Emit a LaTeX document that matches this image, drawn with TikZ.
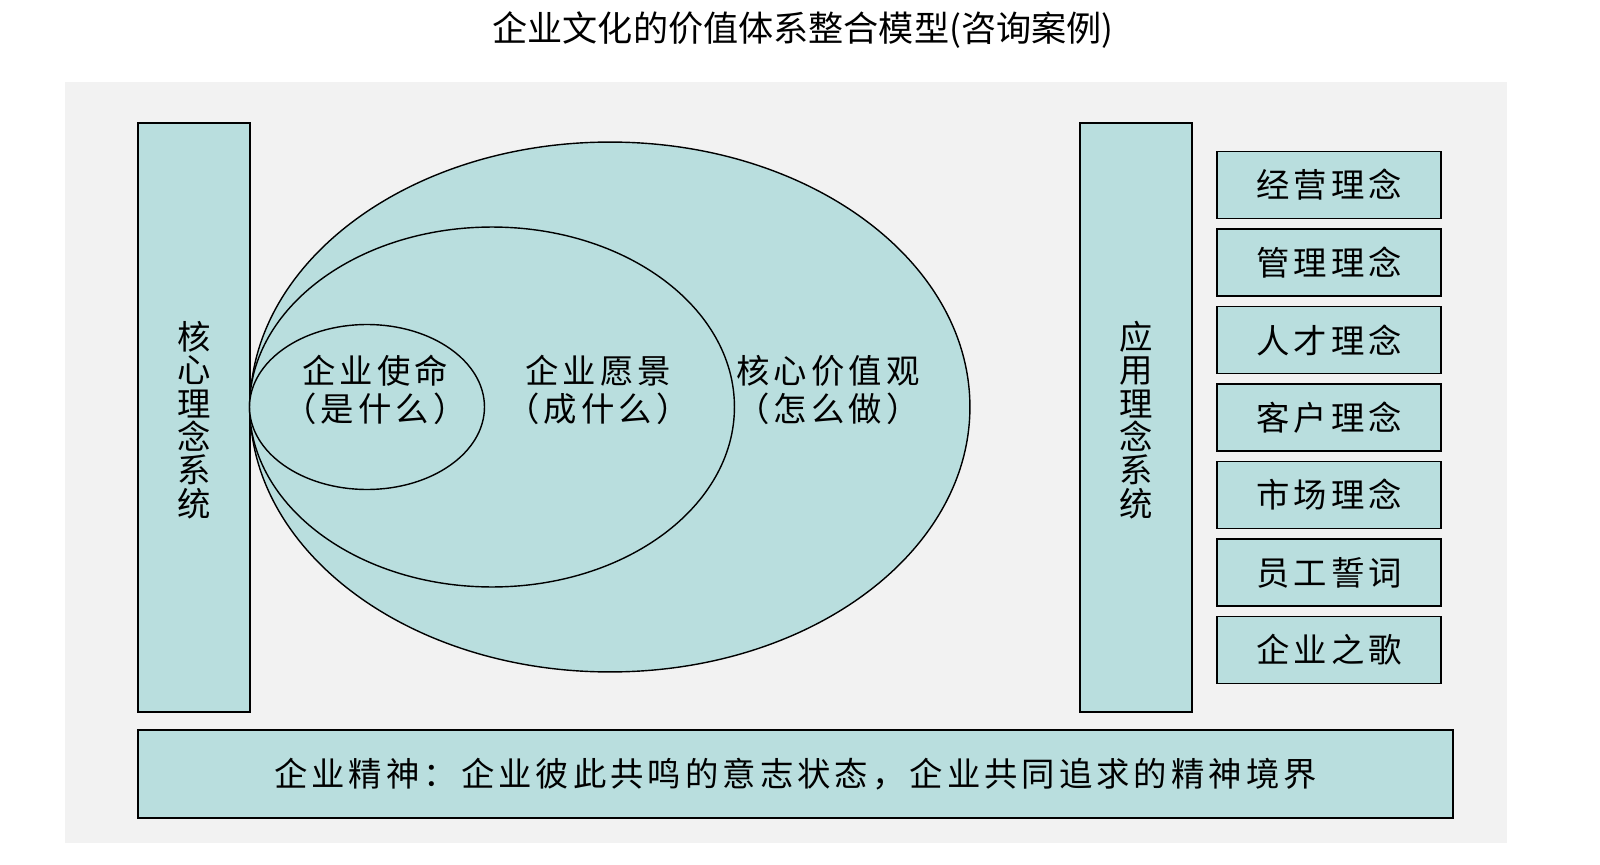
\documentclass[tikz,border=0pt]{standalone}
\usepackage{fontspec}
\setmainfont{Noto Sans CJK SC}
\usetikzlibrary{shapes.geometric}
\definecolor{teal1}{HTML}{B9DEDE}
\definecolor{panel}{HTML}{F2F2F2}
\newcommand{\lblfont}{\fontsize{19}{22}\selectfont\addfontfeature{LetterSpace=12}}
\tikzset{
    bar/.style = {draw, thick, fill = teal1, minimum width = 2.24cm, minimum height = 11.78cm},
    item/.style = {draw, thick, fill = teal1, minimum width = 4.48cm, minimum height = 1.34cm, font = \lblfont},
    oval/.style = {ellipse, draw, thick, fill = teal1}
}
\begin{document}
\begin{tikzpicture}[x = 0.02cm, y = -0.02cm]
        \useasboundingbox (0,0) rectangle (1600,865);
        \fill [panel] (65,82) rectangle (1507,843);
        \node [font = \fontsize{20}{24}\selectfont] (title) at (803,30) {企业文化的价值体系整合模型(咨询案例)};
        \begin{scope}
            \node [bar] (core) at (194,417.5) {};
            \node [align = center, font = \fontsize{19}{19}\selectfont] (coret) at (194,420) {核\\心\\理\\念\\系\\统};
            \node [oval, minimum width = 14.4cm, minimum height = 10.6cm] (values) at (610,407) {};
            \node [oval, minimum width = 9.7cm, minimum height = 7.2cm] (vision) at (492,407) {};
            \node [oval, minimum width = 4.7cm, minimum height = 3.3cm] (mission) at (367,407) {};
            \node [align = center, font = \lblfont] (missiont) at (375,390) {企业使命\\（是什么）};
            \node [align = center, font = \lblfont] (visiont) at (598,390) {企业愿景\\（成什么）};
            \node [align = center, font = \lblfont] (valuest) at (828,390) {核心价值观\\（怎么做）};
        \end{scope}
        \begin{scope}
            \node [bar] (apply) at (1136,417.5) {};
            \node [align = center, font = \fontsize{19}{19}\selectfont] (applyt) at (1136,420) {应\\用\\理\\念\\系\\统};
            \foreach \t [count = \i] in {经营理念, 管理理念, 人才理念, 客户理念, 市场理念, 员工誓词, 企业之歌}
                \node [item] (box\i) at (1329, 185 + 77.5*\i - 77.5) {\t};
        \end{scope}
        \node [draw, thick, fill = teal1, minimum width = 26.3cm, minimum height = 1.76cm, font = \lblfont] (spirit) at (795.5,774) {企业精神：企业彼此共鸣的意志状态，企业共同追求的精神境界};
    \end{tikzpicture}
\end{document}
